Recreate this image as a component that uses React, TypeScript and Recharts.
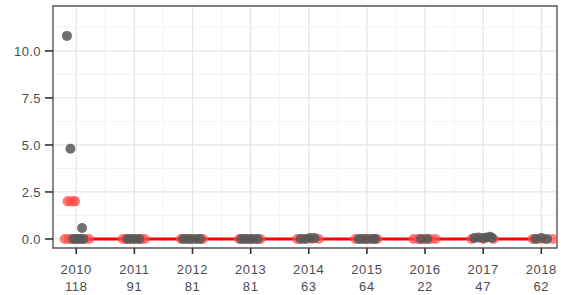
import React from 'react';
import { ComposedChart, Scatter, Line, XAxis, YAxis, CartesianGrid, ReferenceArea } from 'recharts';

const years = [2010, 2011, 2012, 2013, 2014, 2015, 2016, 2017, 2018];
const counts = [118, 91, 81, 81, 63, 64, 22, 47, 62];
const yTicks = [0, 2.5, 5, 7.5, 10];

const redPoints = [
  { x: 2009.85, y: 2.0 }, { x: 2009.9, y: 2.0 }, { x: 2009.95, y: 2.0 }, { x: 2009.98, y: 2.0 },
  { x: 2009.8, y: 0 }, { x: 2009.86, y: 0 }, { x: 2009.92, y: 0 }, { x: 2010.05, y: 0 }, { x: 2010.15, y: 0 }, { x: 2010.22, y: 0 },
  { x: 2010.8, y: 0 }, { x: 2010.86, y: 0 }, { x: 2011.05, y: 0 }, { x: 2011.12, y: 0 }, { x: 2011.18, y: 0 },
  { x: 2011.8, y: 0 }, { x: 2011.95, y: 0 }, { x: 2012.1, y: 0 }, { x: 2012.18, y: 0 },
  { x: 2012.8, y: 0 }, { x: 2012.92, y: 0 }, { x: 2013.08, y: 0 }, { x: 2013.17, y: 0 },
  { x: 2013.8, y: 0 }, { x: 2013.9, y: 0 }, { x: 2014.06, y: 0 }, { x: 2014.17, y: 0 },
  { x: 2014.8, y: 0 }, { x: 2014.97, y: 0 }, { x: 2015.05, y: 0 }, { x: 2015.18, y: 0 },
  { x: 2015.8, y: 0 }, { x: 2015.88, y: 0 }, { x: 2015.98, y: 0 }, { x: 2016.1, y: 0 }, { x: 2016.18, y: 0 },
  { x: 2016.8, y: 0 }, { x: 2017.0, y: 0 }, { x: 2017.18, y: 0 },
  { x: 2017.85, y: 0 }, { x: 2017.95, y: 0 }, { x: 2018.05, y: 0 }, { x: 2018.2, y: 0 },
];

const greyPoints = [
  { x: 2009.84, y: 10.8 }, { x: 2009.9, y: 4.8 }, { x: 2010.1, y: 0.58 },
  { x: 2009.95, y: 0 }, { x: 2010.0, y: 0 }, { x: 2010.06, y: 0 }, { x: 2010.12, y: 0 },
  { x: 2010.88, y: 0 }, { x: 2010.94, y: 0 }, { x: 2011.0, y: 0 }, { x: 2011.08, y: 0 },
  { x: 2011.84, y: 0 }, { x: 2011.9, y: 0 }, { x: 2011.98, y: 0 }, { x: 2012.05, y: 0 }, { x: 2012.13, y: 0 },
  { x: 2012.84, y: 0 }, { x: 2012.9, y: 0 }, { x: 2012.97, y: 0 }, { x: 2013.03, y: 0 }, { x: 2013.12, y: 0 },
  { x: 2013.86, y: 0 }, { x: 2013.95, y: 0 }, { x: 2014.02, y: 0.05 }, { x: 2014.1, y: 0.05 },
  { x: 2014.86, y: 0 }, { x: 2014.92, y: 0 }, { x: 2015.0, y: 0 }, { x: 2015.1, y: 0 }, { x: 2015.14, y: 0 },
  { x: 2015.93, y: 0 }, { x: 2016.04, y: 0 },
  { x: 2016.85, y: 0.05 }, { x: 2016.92, y: 0.08 }, { x: 2017.0, y: 0.05 }, { x: 2017.06, y: 0.08 }, { x: 2017.12, y: 0.12 }, { x: 2017.15, y: 0.05 },
  { x: 2017.9, y: 0 }, { x: 2018.0, y: 0.05 }, { x: 2018.1, y: 0.0 },
];

const trendLine = [
  { x: 2010, y: 0 },
  { x: 2018, y: 0 },
];

const vMajor = years;
const vMinor = [2010.5, 2011.5, 2012.5, 2013.5, 2014.5, 2015.5, 2016.5, 2017.5];
const hMinor = [1.25, 3.75, 6.25, 8.75, 11.25];

const X0 = 2009.6;
const X1 = 2018.27;
const Y0 = -0.48;
const Y1 = 12.39;

const textColor = '#4d4d4d';
const fontFamily = 'Liberation Sans, Arial, sans-serif';

const XTick = (props: any) => {
  const { x, y, payload } = props;
  const i = years.indexOf(payload.value);
  return (
    <g>
      <text x={x} y={y + 18} textAnchor="middle" fontSize={13} letterSpacing={0.6} fill={textColor} fontFamily={fontFamily}>{payload.value}</text>
      <text x={x} y={y + 35} textAnchor="middle" fontSize={13} letterSpacing={0.6} fill={textColor} fontFamily={fontFamily}>{counts[i]}</text>
    </g>
  );
};

const RedDot = (props: any) => <circle cx={props.cx} cy={props.cy} r={5} fill="#ff4a4a" fillOpacity={0.7} />;
const GreyDot = (props: any) => <circle cx={props.cx} cy={props.cy} r={5} fill="#585858" fillOpacity={0.85} />;

export default function App() {
  return (
    <div style={{ position: 'absolute', left: 0, top: 0, background: '#fff' }}>
      <ComposedChart width={561} height={295} margin={{ top: 6, right: 4, bottom: 0, left: 0 }}>
        <CartesianGrid stroke="#f0f0f0" strokeWidth={0.8} horizontalValues={hMinor} verticalValues={vMinor} />
        <CartesianGrid stroke="#e5e5e5" strokeWidth={1.2} horizontalValues={yTicks} verticalValues={vMajor} />
        <XAxis
          dataKey="x"
          type="number"
          domain={[X0, X1]}
          ticks={years}
          allowDataOverflow
          height={47}
          tickSize={6}
          tickMargin={2}
          tick={<XTick />}
          tickLine={{ stroke: '#333', strokeWidth: 1.6 }}
          axisLine={false}
        />
        <YAxis
          dataKey="y"
          type="number"
          domain={[Y0, Y1]}
          ticks={yTicks}
          allowDataOverflow
          width={53}
          tickSize={8}
          tickMargin={4}
          tickFormatter={(v: number) => v.toFixed(1)}
          tick={{ fontSize: 13, fill: textColor, fontFamily, letterSpacing: 0.4 }}
          tickLine={{ stroke: '#333', strokeWidth: 1.6 }}
          axisLine={false}
        />
        <Scatter data={redPoints} shape={<RedDot />} isAnimationActive={false} />
        <Scatter data={greyPoints} shape={<GreyDot />} isAnimationActive={false} />
        <Line data={trendLine} dataKey="y" stroke="#ff0000" strokeWidth={3} dot={false} isAnimationActive={false} />
        <ReferenceArea x1={X0} x2={X1} y1={Y0} y2={Y1} fill="none" stroke="#555" strokeWidth={1.4} fillOpacity={0} />
      </ComposedChart>
    </div>
  );
}
